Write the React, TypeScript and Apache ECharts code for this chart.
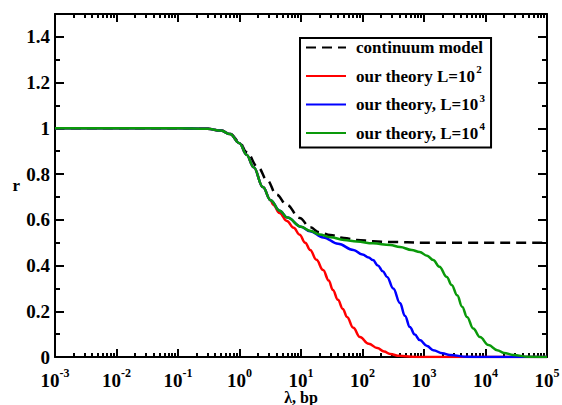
import React, { useEffect, useRef } from "react";
import * as echarts from "echarts";

// ---- data ----
const continuumLambda = [0.001, 0.1, 0.3, 0.5, 0.7, 1, 1.3, 2, 2.8, 4, 5.9, 9.5, 14, 20, 30, 50, 81, 150, 282, 1000, 100000];
const continuumR = [1, 1, 0.998, 0.99, 0.977, 0.94, 0.896, 0.83, 0.774, 0.71, 0.665, 0.608, 0.567, 0.545, 0.533, 0.52, 0.512, 0.506, 0.503, 0.5, 0.5];

const l2Lambda = [0.001, 0.1, 0.3, 0.5, 0.7, 1, 1.3, 1.7, 2.4, 3.2, 3.55, 4.47, 5.9, 7.6, 9.5, 11.7, 14.1, 17.8, 22.9, 28.2, 33, 39.8, 47.9, 56, 70.8, 91, 126, 174, 224, 282, 398, 631, 1000, 100000];
const l2R = [1, 1, 0.998, 0.99, 0.975, 0.935, 0.885, 0.83, 0.743, 0.686, 0.665, 0.63, 0.595, 0.565, 0.535, 0.5, 0.468, 0.425, 0.38, 0.335, 0.293, 0.25, 0.21, 0.175, 0.128, 0.087, 0.058, 0.039, 0.024, 0.013, 0.005, 0.001, 0, 0];

const l3Lambda = [0.001, 0.1, 0.3, 0.5, 0.7, 1, 1.3, 1.7, 2.4, 3.2, 4.5, 6, 10, 14, 23, 40, 71, 100, 126, 148, 178, 214, 251, 316, 407, 490, 589, 708, 851, 1122, 1413, 1995, 2630, 5012, 10000, 100000];
const l3R = [1, 1, 0.998, 0.99, 0.975, 0.935, 0.885, 0.83, 0.743, 0.686, 0.64, 0.61, 0.57, 0.55, 0.523, 0.495, 0.468, 0.448, 0.435, 0.424, 0.4, 0.375, 0.35, 0.3, 0.236, 0.18, 0.131, 0.098, 0.074, 0.048, 0.03, 0.016, 0.009, 0.001, 0, 0];

const l4Lambda = [0.001, 0.1, 0.3, 0.5, 0.7, 1, 1.3, 1.7, 2.4, 3.2, 4.5, 6, 10, 14, 20, 30, 50, 81, 148, 282, 407, 631, 851, 1122, 1413, 1778, 2344, 2818, 3467, 4169, 5012, 6310, 8128, 11220, 15488, 19953, 28184, 50119, 100000];
const l4R = [1, 1, 0.998, 0.99, 0.975, 0.935, 0.885, 0.83, 0.743, 0.686, 0.64, 0.61, 0.57, 0.552, 0.536, 0.524, 0.512, 0.505, 0.497, 0.49, 0.481, 0.468, 0.459, 0.443, 0.424, 0.395, 0.35, 0.315, 0.27, 0.22, 0.175, 0.125, 0.087, 0.052, 0.03, 0.018, 0.009, 0.001, 0];

const seriesNames = ["continuum model", "our theory L=10^2", "our theory, L=10^3", "our theory, L=10^4"];
const seriesColors = ["#000000", "#ff0000", "#0000ff", "#0a990a"];

const yMajorTicks = [0, 0.2, 0.4, 0.6, 0.8, 1, 1.2, 1.4];
const yMinorTicks = [0.1, 0.3, 0.5, 0.7, 0.9, 1.1, 1.3];
const xDecadeExponents = [-3, -2, -1, 0, 1, 2, 3, 4];
const xMinorMultipliers = [2, 3, 4, 5, 6, 7, 8, 9];

const FONT = "'Liberation Serif', 'Times New Roman', serif";

function pairs(xs: number[], ys: number[]) {
  return xs.map((x, i) => [x, ys[i]]);
}

function legendLabel(name: string) {
  const m = name.match(/^(.*10)\^(\d+)$/);
  if (m) return `{n|${m[1]}}{e|${m[2]}}`;
  return `{n|${name}}`;
}

export default function App() {
  const ref = useRef<HTMLDivElement>(null);
  useEffect(() => {
    if (!ref.current) return;
    const chart = echarts.init(ref.current, null, { renderer: "svg" });
    // minor tick positions on the log axis, expressed as log10(λ) for a linear overlay axis
    const xMinorLog: number[] = [];
    xDecadeExponents.forEach((e) => xMinorMultipliers.forEach((k) => xMinorLog.push(e + Math.log10(k))));

    const gridBox = { left: 55, right: 15, top: 14, bottom: 48, containLabel: false, outerBoundsMode: "none" };
    const axisLine = { show: true, onZero: false, lineStyle: { color: "#000", width: 2 } };
    const noLine = { show: false, onZero: false };
    const tickStyle = { width: 2, color: "#000" };
    const xLog = {
      type: "log" as const,
      logBase: 10,
      min: 0.001,
      max: 100000,
      gridIndex: 0,
      splitLine: { show: false },
    };
    const xMinorBase = {
      type: "value" as const,
      min: -3,
      max: 5,
      gridIndex: 1,
      splitLine: { show: false },
      axisLine: noLine,
      axisLabel: { show: false },
    };
    const yMain = {
      type: "value" as const,
      min: 0,
      max: 1.5,
      gridIndex: 0,
      splitLine: { show: false },
    };
    const yMinor = {
      type: "value" as const,
      min: 0,
      max: 1.5,
      gridIndex: 1,
      splitLine: { show: false },
      axisLine: noLine,
      axisLabel: { show: false },
      axisTick: { show: true, inside: true, length: 5, customValues: yMinorTicks, lineStyle: tickStyle },
    };
    const xLabelRich = {
      b: { fontSize: 19, fontWeight: "bold", fontFamily: FONT, color: "#000" },
      e: { fontSize: 12, fontWeight: "bold", fontFamily: FONT, color: "#000", padding: [0, 0, 14, 0] },
    };

    const dataSets = [
      pairs(continuumLambda, continuumR),
      pairs(l2Lambda, l2R),
      pairs(l3Lambda, l3R),
      pairs(l4Lambda, l4R),
    ];

    chart.setOption({
      animation: false,
      backgroundColor: "#fff",
      grid: [gridBox, { ...gridBox }],
      legend: {
        left: 300,
        top: 38,
        orient: "vertical",
        backgroundColor: "#fff",
        borderColor: "#000",
        borderWidth: 2,
        borderRadius: 0,
        padding: [1, 6, 6, 5],
        itemGap: 7.5,
        itemWidth: 40,
        itemHeight: 14,
        itemStyle: { opacity: 0 },
        data: seriesNames,
        formatter: (name: string) => legendLabel(name),
        textStyle: {
          padding: [0, 0, 0, 5],
          rich: {
            n: { fontSize: 17, fontWeight: "bold", fontFamily: FONT, color: "#000", lineHeight: 20 },
            e: { fontSize: 11, fontWeight: "bold", fontFamily: FONT, color: "#000", padding: [0, 0, 14, 1] },
          },
        },
      },
      xAxis: [
        {
          ...xLog,
          position: "bottom",
          axisLine,
          axisTick: { show: true, inside: true, length: 8, lineStyle: tickStyle },
          axisLabel: {
            show: true,
            margin: 10,
            formatter: (v: number) => `{b|10}{e|${Math.round(Math.log10(v))}}`,
            rich: xLabelRich,
          },
          name: "λ, bp",
          nameLocation: "middle",
          nameGap: 32,
          nameMoveOverlap: false,
          nameTextStyle: { fontSize: 16, fontWeight: "bold", fontFamily: FONT, color: "#000" },
        },
        {
          ...xLog,
          position: "top",
          axisLine,
          axisTick: { show: true, inside: true, length: 8, lineStyle: tickStyle },
          axisLabel: { show: false },
        },
        {
          ...xMinorBase,
          position: "bottom",
          axisTick: { show: true, inside: true, length: 4, customValues: xMinorLog, lineStyle: tickStyle },
        },
        {
          ...xMinorBase,
          position: "top",
          axisTick: { show: true, inside: true, length: 4, customValues: xMinorLog, lineStyle: tickStyle },
        },
      ],
      yAxis: [
        {
          ...yMain,
          position: "left",
          axisLine,
          axisTick: { show: true, inside: true, length: 9, customValues: yMajorTicks, lineStyle: tickStyle },
          axisLabel: {
            show: true,
            customValues: yMajorTicks,
            margin: 5,
            fontSize: 19,
            fontWeight: "bold",
            fontFamily: FONT,
            color: "#000",
          },
          name: "r",
          nameLocation: "middle",
          nameGap: 35,
          nameRotate: 0,
          nameMoveOverlap: false,
          nameTextStyle: { fontSize: 17, fontWeight: "bold", fontFamily: FONT, color: "#000" },
        },
        {
          ...yMain,
          position: "right",
          axisLine,
          axisTick: { show: true, inside: true, length: 9, customValues: yMajorTicks, lineStyle: tickStyle },
          axisLabel: { show: false },
        },
        { ...yMinor, position: "left" },
        { ...yMinor, position: "right" },
      ],
      series: seriesNames.map((name, i) => ({
        name,
        type: "line",
        xAxisIndex: 0,
        yAxisIndex: 0,
        data: dataSets[i],
        showSymbol: false,
        symbol: "none",
        smooth: 0.4,
        smoothMonotone: "x",
        lineStyle: {
          color: seriesColors[i],
          width: 2.5,
          type: i === 0 ? [10, 6] : "solid",
        },
        itemStyle: { color: seriesColors[i] },
      })),
    });
    return () => chart.dispose();
  }, []);
  return (
    <div
      ref={ref}
      style={{ position: "fixed", left: 0, top: 0, width: 562, height: 405 }}
    />
  );
}
